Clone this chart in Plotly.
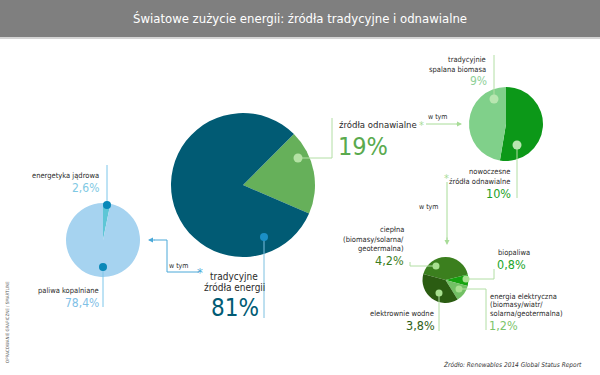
import plotly.graph_objects as go

W, H = 600, 375

# ---- data ----
main_labels = ["źródła odnawialne", "tradycyjne źródła energii"]
main_values = [19, 81]
trad_labels = ["energetyka jądrowa", "paliwa kopalniane"]
trad_values = [2.6, 78.4]
ren_labels = ["nowoczesne źródła odnawialne", "tradycyjnie spalana biomasa"]
ren_values = [10, 9]
mod_labels = ["ciepłna (biomasy/solarna/geotermalna)", "biopaliwa",
              "energia elektryczna (biomasy/wiatr/solarna/geotermalna)", "elektrownie wodne"]
mod_values = [4.2, 0.8, 1.2, 3.8]

title = "Światowe zużycie energii: źródła tradycyjne i odnawialne"
source = "Źródło: Renewables 2014 Global Status Report"
credit = "OPRACOWANIE GRAFICZNE / SMARTLINE"

FONT = "DejaVu Sans Condensed, Liberation Sans Narrow, Noto Sans, sans-serif"


def pct(v):
    s = ("%g" % v).replace(".", ",")
    return s + "%"


def dom(cx, cy, r):
    return dict(x=[(cx - r) / W, (cx + r) / W], y=[1 - (cy + r) / H, 1 - (cy - r) / H])


fig = go.Figure()

fig.add_trace(go.Pie(labels=main_labels, values=main_values, sort=False, direction="clockwise",
                     rotation=45, textinfo="none", hoverinfo="label+percent",
                     marker=dict(colors=["#66b05a", "#015b74"], line=dict(width=0)),
                     domain=dom(243, 185, 72), showlegend=False))
fig.add_trace(go.Pie(labels=trad_labels, values=trad_values, sort=False, direction="clockwise",
                     rotation=0, textinfo="none",
                     marker=dict(colors=["#5ec6d6", "#a6d3f0"], line=dict(width=0)),
                     domain=dom(103, 240, 37), showlegend=False))
fig.add_trace(go.Pie(labels=ren_labels, values=ren_values, sort=False, direction="clockwise",
                     rotation=0, textinfo="none",
                     marker=dict(colors=["#0c9818", "#80d08a"], line=dict(width=0)),
                     domain=dom(506, 124, 37), showlegend=False))
fig.add_trace(go.Pie(labels=mod_labels, values=mod_values, sort=False, direction="clockwise",
                     rotation=-75, textinfo="none",
                     marker=dict(colors=["#3b7f1e", "#16a30f", "#72c064", "#2b5c12"], line=dict(width=0)),
                     domain=dom(445.5, 280, 23), showlegend=False))

shapes = []
# title bar
shapes.append(dict(type="rect", xref="x", yref="y", x0=0, x1=600, y0=0, y1=37,
                   fillcolor="#7f7f7f", line=dict(width=0), layer="below"))
shapes.append(dict(type="rect", xref="x", yref="y", x0=0, x1=600, y0=37, y1=39,
                   fillcolor="#d4d4d4", line=dict(width=0), layer="below"))


def path(pts, color, width=1):
    d = "M " + " L ".join("%g,%g" % p for p in pts)
    shapes.append(dict(type="path", xref="x", yref="y", path=d,
                       line=dict(color=color, width=width), layer="above"))


def dot(x, y, r, color):
    shapes.append(dict(type="circle", xref="x", yref="y", x0=x - r, x1=x + r, y0=y - r, y1=y + r,
                       fillcolor=color, line=dict(width=0), layer="above"))


# leader lines
LB = "#7cc6ea"
path([(107, 205), (107, 165)], LB)
path([(103, 267), (103, 307)], LB)
path([(264, 237), (264, 318)], "#7cc0e0")
LG = "#b2dea4"
path([(298, 158), (332, 158), (332, 118)], LG)
path([(494, 99), (494, 55)], LG)
path([(517, 145), (517, 198)], LG)
path([(436, 266), (410, 266), (410, 262)], LG)
path([(466, 279), (494, 279), (494, 269)], LG)
path([(459, 289), (486, 289), (486, 330)], LG)
path([(439, 293), (439, 331)], LG)
# connectors
path([(199, 272), (167, 272), (167, 240), (154, 240)], "#4aa8d8")
path([(426, 124), (458, 124)], "#a8dc98")
path([(447, 182), (447, 240)], "#a8dc98")

dot(107, 205, 4, "#0a88b8")
dot(103, 267, 4, "#0a88b8")
dot(264, 237, 4, "#1b8fc6")
dot(298, 158, 4.5, "#b4e2a4")
dot(494, 99, 4.5, "#b8e6b0")
dot(517, 145, 4.5, "#b8e6b0")
for (x, y) in [(436, 266), (466, 279), (459, 289), (439, 293)]:
    dot(x, y, 3.5, "#a8e090")

ann = []


def txt(x, y, s, size=7.5, color="#2a2a2a", xa="left", ya="middle", italic=False, angle=0):
    ann.append(dict(x=x, y=y, xref="x", yref="y", text=s, showarrow=False, xanchor=xa, yanchor=ya,
                    textangle=angle, align=xa if xa != "center" else "center",
                    font=dict(family=FONT, size=size, color=color,
                              style="italic" if italic else "normal")))


def arrow(x, y, ax, ay, color):
    ann.append(dict(x=x, y=y, ax=ax, ay=ay, xref="x", yref="y", axref="x", ayref="y", text="",
                    showarrow=True, arrowhead=2, arrowsize=1, arrowwidth=1, arrowcolor=color))


txt(300, 18, title, size=13, color="white", xa="center")

# left pie labels
txt(101, 175, trad_labels[0], size=7.5, xa="right")
txt(101, 188, pct(trad_values[0]), size=12, color="#7fc9e4", xa="right")
txt(101, 290, trad_labels[1], size=7.5, xa="right")
txt(101, 303, pct(trad_values[1]), size=12, color="#7fc0e6", xa="right")

# main labels
txt(200, 272, "*", size=13, color="#4aa8d8", xa="center")
arrow(148, 240, 156, 240, "#4aa8d8")
txt(178, 266, "w tym", size=7, xa="center")
txt(234, 276, "tradycyjne", size=10, xa="center")
txt(234, 287, "źródła energii", size=10, xa="center")
txt(235, 308, pct(main_values[1]), size=24, color="#015b74", xa="center")

txt(337, 124, "źródła odnawialne", size=9.5, xa="left")
txt(336, 146, pct(main_values[0]), size=25, color="#5aaa4e", xa="left")

txt(421, 125, "*", size=11, color="#a8dc98", xa="center")
arrow(462, 124, 455, 124, "#a8dc98")
txt(437, 117, "w tym", size=7, xa="center")

# right pie labels
txt(488, 59, "tradycyjnie", size=7.5, xa="right")
txt(488, 69, "spalana biomasa", size=7.5, xa="right")
txt(489, 81, pct(ren_values[1]), size=12, color="#8fd098", xa="right")
txt(512, 171, "nowoczesne", size=7.5, xa="right")
txt(512, 181, "źródła odnawialne", size=7.5, xa="right")
txt(513, 193, pct(ren_values[0]), size=12.5, color="#1ea028", xa="right")

txt(446, 178, "*", size=11, color="#a8dc98", xa="center")
arrow(447, 245, 447, 236, "#a8dc98")
txt(440, 207, "w tym", size=7, xa="right")

# bottom pie labels
txt(406, 229, "ciepłna", size=7.5, xa="right")
txt(406, 239, "(biomasy/solarna/", size=7.5, xa="right")
txt(406, 248, "geotermalna)", size=7.5, xa="right")
txt(406, 260, pct(mod_values[0]), size=12.5, color="#3c7d1c", xa="right")

txt(496, 252, "biopaliwa", size=7.5, xa="left")
txt(495, 264, pct(mod_values[1]), size=12.5, color="#22a52a", xa="left")

txt(488, 296, "energia elektryczna", size=7.5, xa="left")
txt(488, 304.5, "(biomasy/wiatr/", size=7.5, xa="left")
txt(488, 313, "solarna/geotermalna)", size=7.5, xa="left")
txt(487, 325, pct(mod_values[2]), size=12.5, color="#7cc46a", xa="left")

txt(436, 313, "elektrownie wodne", size=7.5, xa="right")
txt(437, 325, pct(mod_values[3]), size=12.5, color="#2d5e14", xa="right")

# source and credit
txt(584, 364, source, size=6.5, color="#333333", xa="right", italic=True)
txt(7, 322, credit, size=4.5, color="#555555", xa="center", angle=-90)

fig.update_layout(
    width=W, height=H,
    margin=dict(l=0, r=0, t=0, b=0),
    paper_bgcolor="white", plot_bgcolor="rgba(0,0,0,0)",
    xaxis=dict(range=[0, W], visible=False, fixedrange=True),
    yaxis=dict(range=[H, 0], visible=False, fixedrange=True),
    shapes=shapes, annotations=ann, showlegend=False,
)

fig.write_html("out.html", config={"displayModeBar": False},
               post_script="document.body.style.margin='0';document.body.style.overflow='hidden';")
